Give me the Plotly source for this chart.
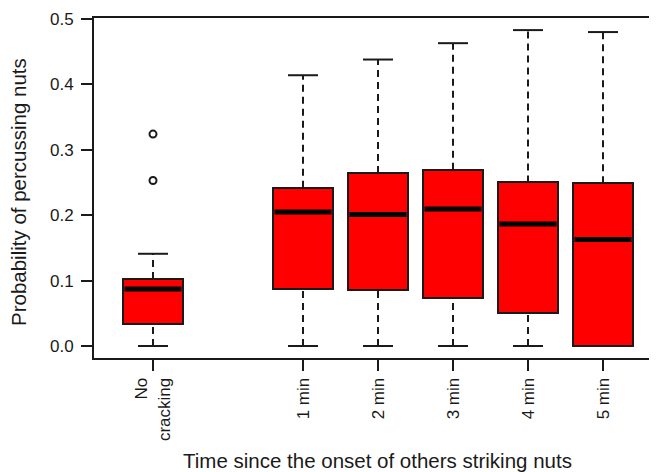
import plotly.graph_objects as go

# ---- data ----
groups = ["No<br>cracking", "1 min", "2 min", "3 min", "4 min", "5 min"]
group_slots = [1, 3, 4, 5, 6, 7]          # boxplot "at" positions
lower_whisker = [0.000, 0.000, 0.000, 0.000, 0.000, 0.000]
q1_values = [0.033, 0.087, 0.086, 0.074, 0.050, 0.000]
median_values = [0.087, 0.205, 0.201, 0.2095, 0.1865, 0.163]
q3_values = [0.1025, 0.242, 0.2645, 0.2695, 0.250, 0.249]
upper_whisker = [0.141, 0.414, 0.438, 0.463, 0.483, 0.480]
outlier_group = ["No<br>cracking", "No<br>cracking"]
outlier_values = [0.324, 0.253]
y_ticks = [0.0, 0.1, 0.2, 0.3, 0.4, 0.5]
x_title = "Time since the onset of others striking nuts"
y_title = "Probability of percussing nuts"

# ---- style ----
BOX_W = 0.8
CAP_W = 0.4
RED = "#FF0000"
INK = "#1a1a1a"
FONT = "Liberation Sans, Arial, sans-serif"

fig = go.Figure()

# whiskers (dashed)
wx, wy = [], []
for s, lo, q1, q3, hi in zip(group_slots, lower_whisker, q1_values, q3_values, upper_whisker):
    wx += [s, s, None, s, s, None]
    wy += [q3, hi, None, lo, q1, None]
fig.add_trace(go.Scatter(x=wx, y=wy, mode="lines",
                         line=dict(color=INK, width=2, dash="7px,5px"),
                         hoverinfo="skip", showlegend=False))

# staples (caps)
cx, cy = [], []
for s, lo, hi in zip(group_slots, lower_whisker, upper_whisker):
    cx += [s - CAP_W / 2, s + CAP_W / 2, None, s - CAP_W / 2, s + CAP_W / 2, None]
    cy += [hi, hi, None, lo, lo, None]
fig.add_trace(go.Scatter(x=cx, y=cy, mode="lines",
                         line=dict(color=INK, width=2),
                         hoverinfo="skip", showlegend=False))

# boxes (Q1 to Q3)
fig.add_trace(go.Bar(
    x=group_slots,
    y=[q3 - q1 for q1, q3 in zip(q1_values, q3_values)],
    base=q1_values,
    width=BOX_W,
    marker=dict(color=RED, line=dict(color=INK, width=2)),
    hoverinfo="skip", showlegend=False,
))

# medians (thick)
mx, my = [], []
for s, m in zip(group_slots, median_values):
    mx += [s - BOX_W / 2 + 0.02, s + BOX_W / 2 - 0.02, None]
    my += [m, m, None]
fig.add_trace(go.Scatter(x=mx, y=my, mode="lines",
                         line=dict(color="#000000", width=5),
                         hoverinfo="skip", showlegend=False))

# outliers
slot_of = dict(zip(groups, group_slots))
fig.add_trace(go.Scatter(
    x=[slot_of[g] for g in outlier_group], y=outlier_values, mode="markers",
    marker=dict(symbol="circle-open", size=7, color=INK, line=dict(width=2)),
    hoverinfo="skip", showlegend=False,
))

fig.update_layout(
    width=649, height=464,
    margin=dict(l=86, r=0, t=10, b=114),
    paper_bgcolor="white", plot_bgcolor="white",
    font=dict(family=FONT, color=INK, size=17),
    bargap=0,
    annotations=[
        dict(text=x_title, xref="paper", yref="paper", x=0.5, y=0,
             xanchor="center", yanchor="middle", xshift=1.5, yshift=-102,
             showarrow=False, font=dict(size=20.5)),
        dict(text=y_title, xref="paper", yref="paper", x=0, y=0.5,
             xanchor="center", yanchor="middle", xshift=-76, yshift=-4,
             textangle=-90, showarrow=False, font=dict(size=20.5)),
    ],
)
fig.update_xaxes(
    range=[0.2133, 7.72], automargin=False,
    tickmode="array", tickvals=group_slots, ticktext=groups,
    tickangle=-90,
    ticks="outside", ticklen=11, tickwidth=2, tickcolor=INK,
    showline=True, linecolor=INK, linewidth=2, mirror=True,
    showgrid=False, zeroline=False,
    tickfont=dict(size=17),
)
fig.update_yaxes(
    range=[-0.01835, 0.5015], automargin=False,
    tickmode="array", tickvals=y_ticks,
    ticktext=[f"{v:.1f}" for v in y_ticks],
    ticks="outside", ticklen=11, tickwidth=2, tickcolor=INK,
    ticklabelstandoff=4,
    showline=True, linecolor=INK, linewidth=2,
    showgrid=False, zeroline=False,
    tickfont=dict(size=17),
)

fig.write_html("out.html")
